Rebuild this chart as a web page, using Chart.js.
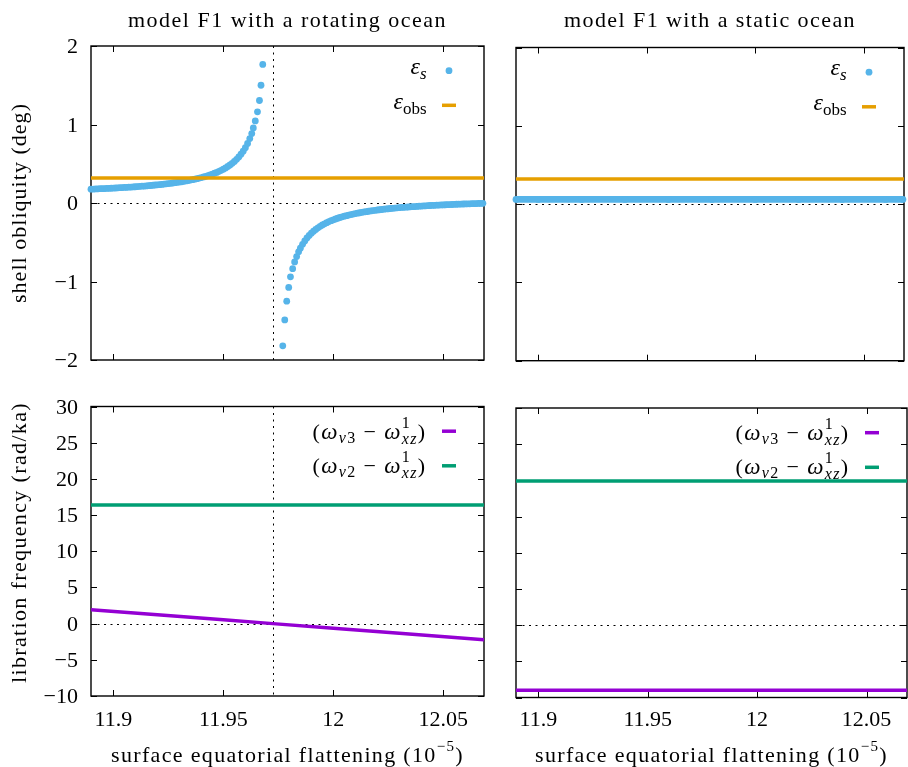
<!DOCTYPE html>
<html>
<head>
<meta charset="utf-8">
<title>model F1 obliquity and libration</title>
<script src="https://cdn.jsdelivr.net/npm/chart.js@4.4.1/dist/chart.umd.min.js"></script>
<style>
  html, body { margin: 0; padding: 0; background: #fff; }
  #fig { position: relative; width: 908px; height: 767px; overflow: hidden; }
  #fig canvas { position: absolute; left: 0; top: 0; }
</style>
</head>
<body>
<div id="fig">
  <canvas id="tl" width="908" height="767"></canvas>
  <canvas id="tr" width="908" height="767"></canvas>
  <canvas id="bl" width="908" height="767"></canvas>
  <canvas id="br" width="908" height="767"></canvas>
</div>
<script>
// x axis: surface equatorial flattening (10^-5), same for all panels
const xMin = 11.8898
const xMax = 12.0685
const xTicks = [11.9, 11.95, 12, 12.05]
const resonanceX = 11.9725

// top row: shell obliquity (deg)
const oblTicks = [-2, -1, 0, 1, 2]
// rotating ocean, below the resonance
const rotLeftX = [11.8898, 11.891, 11.892, 11.893, 11.894, 11.895, 11.896, 11.897, 11.898, 11.899,
  11.900, 11.901, 11.902, 11.903, 11.904, 11.905, 11.906, 11.907, 11.908, 11.909,
  11.910, 11.911, 11.912, 11.913, 11.914, 11.915, 11.916, 11.917, 11.918, 11.919,
  11.920, 11.921, 11.922, 11.923, 11.924, 11.925, 11.926, 11.927, 11.928, 11.929,
  11.930, 11.931, 11.932, 11.933, 11.934, 11.935, 11.936, 11.937, 11.938, 11.939,
  11.940, 11.941, 11.942, 11.943, 11.944, 11.945, 11.946, 11.947, 11.948, 11.949,
  11.950, 11.951, 11.952, 11.953, 11.954, 11.955, 11.956, 11.957, 11.958, 11.959,
  11.960, 11.961, 11.962, 11.9629, 11.9636, 11.9645, 11.9655, 11.9664, 11.9671, 11.9679]
const rotLeftY = [0.176, 0.178, 0.179, 0.180, 0.182, 0.183, 0.184, 0.186, 0.187, 0.188,
  0.190, 0.191, 0.193, 0.195, 0.196, 0.198, 0.200, 0.202, 0.203, 0.205,
  0.207, 0.209, 0.212, 0.214, 0.216, 0.218, 0.221, 0.223, 0.226, 0.229,
  0.232, 0.234, 0.237, 0.241, 0.244, 0.247, 0.251, 0.255, 0.259, 0.263,
  0.267, 0.271, 0.276, 0.281, 0.286, 0.292, 0.297, 0.303, 0.310, 0.317,
  0.324, 0.332, 0.340, 0.348, 0.358, 0.368, 0.379, 0.390, 0.403, 0.416,
  0.431, 0.447, 0.465, 0.484, 0.506, 0.529, 0.556, 0.586, 0.621, 0.660,
  0.705, 0.758, 0.821, 0.885, 0.957, 1.046, 1.161, 1.306, 1.50, 1.765]
// rotating ocean, above the resonance
const rotRightX = [11.9770, 11.9779, 11.9788, 11.9797, 11.9805, 11.9815, 11.9824, 11.9833, 11.9842,
  11.985, 11.986, 11.987, 11.988, 11.989, 11.990, 11.991, 11.992, 11.993, 11.994,
  11.995, 11.996, 11.997, 11.998, 11.999, 12.000, 12.001, 12.002, 12.003, 12.004,
  12.005, 12.006, 12.007, 12.008, 12.009, 12.010, 12.011, 12.012, 12.013, 12.014,
  12.015, 12.016, 12.017, 12.018, 12.019, 12.020, 12.021, 12.022, 12.023, 12.024,
  12.025, 12.026, 12.027, 12.028, 12.029, 12.030, 12.031, 12.032, 12.033, 12.034,
  12.035, 12.036, 12.037, 12.038, 12.039, 12.040, 12.041, 12.042, 12.043, 12.044,
  12.045, 12.046, 12.047, 12.048, 12.049, 12.050, 12.051, 12.052, 12.053, 12.054,
  12.055, 12.056, 12.057, 12.058, 12.059, 12.060, 12.061, 12.062, 12.063, 12.064,
  12.065, 12.066, 12.067, 12.068]
const rotRightY = [-1.82, -1.49, -1.25, -1.075, -0.94, -0.837, -0.75, -0.682, -0.622,
  -0.576, -0.526, -0.483, -0.446, -0.414, -0.385, -0.360, -0.337, -0.316, -0.297,
  -0.280, -0.265, -0.251, -0.237, -0.225, -0.214, -0.204, -0.194, -0.185, -0.176,
  -0.168, -0.161, -0.154, -0.147, -0.141, -0.135, -0.129, -0.124, -0.119, -0.114,
  -0.110, -0.105, -0.101, -0.097, -0.093, -0.089, -0.086, -0.083, -0.079, -0.076,
  -0.073, -0.070, -0.068, -0.065, -0.062, -0.060, -0.057, -0.055, -0.053, -0.051,
  -0.049, -0.047, -0.045, -0.043, -0.041, -0.039, -0.037, -0.036, -0.034, -0.032,
  -0.031, -0.029, -0.028, -0.026, -0.025, -0.024, -0.022, -0.021, -0.020, -0.019,
  -0.017, -0.016, -0.015, -0.014, -0.013, -0.012, -0.011, -0.010, -0.009, -0.008,
  -0.007, -0.006, -0.005, -0.004]
// static ocean
const staticX = [11.8898, 11.90, 11.92, 11.94, 11.96, 11.98, 12.00, 12.02, 12.04, 12.06, 12.068]
const staticY = [0.06, 0.06, 0.06, 0.06, 0.06, 0.06, 0.06, 0.06, 0.06, 0.06, 0.06]
// observed obliquity
const obsX = [11.8898, 12.0685]
const obsY = [0.32, 0.32]

// bottom row: libration frequency (rad/ka)
const freqTicks = [-10, -5, 0, 5, 10, 15, 20, 25, 30]
const rotV3X = [11.8898, 11.92, 11.95, 11.9725, 12.0, 12.03, 12.0685]
const rotV3Y = [1.93, 1.22, 0.52, 0.0, -0.63, -1.33, -2.24]
const rotV2X = [11.8898, 11.98, 12.0685]
const rotV2Y = [16.4, 16.4, 16.4]
const statV3X = [11.8898, 11.98, 12.0685]
const statV3Y = [-9.0, -9.0, -9.0]
const statV2X = [11.8898, 11.98, 12.0685]
const statV2Y = [19.9, 19.9, 19.9]

const BLUE = '#56b4e9'
const ORANGE = '#e69f00'
const GREEN = '#009e73'
const PURPLE = '#9400d3'
const SERIF = '"Liberation Serif", "Times New Roman", serif'

function f (size, style) { return (style ? style + ' ' : '') + size + 'px ' + SERIF }
function fmt (v) { return v < 0 ? '\u2212' + Math.abs(v) : String(v) }
function pts (xs, ys) { return xs.map((x, i) => ({ x: x, y: ys[i] })) }

function dots (xs, ys) {
  return { data: pts(xs, ys), showLine: false, pointRadius: 3.4, pointBackgroundColor: BLUE,
    pointBorderWidth: 0, clip: false, order: 1 }
}
function band (xs, ys, color, w) {
  return { data: pts(xs, ys), showLine: true, borderColor: color, borderWidth: w,
    pointRadius: 0, order: 0 }
}

// draw a run of text pieces (sub/superscripts), optionally stretched to a width
function rich (ctx, parts, x, y, align, target) {
  let n = 0
  let w0 = 0
  ctx.letterSpacing = '0px'
  for (const p of parts) {
    if (p.sup !== undefined) {
      ctx.font = p.fs
      const a = ctx.measureText(p.sup).width
      ctx.font = p.fb
      const b = ctx.measureText(p.sub).width
      p.w = Math.max(a, b)
      p.n = Math.max(p.sup.length, p.sub.length)
    } else {
      ctx.font = p.f
      p.w = ctx.measureText(p.t).width
      p.n = [...p.t].length
    }
    w0 += p.w
    n += p.n
  }
  const ls = target ? (target - w0) / n : 0
  const w = w0 + ls * n
  let cx = align === 'right' ? x - w : align === 'center' ? x - w / 2 : x
  ctx.textAlign = 'left'
  ctx.textBaseline = 'alphabetic'
  ctx.fillStyle = '#000'
  ctx.letterSpacing = ls + 'px'
  for (const p of parts) {
    if (p.sup !== undefined) {
      ctx.font = p.fs
      ctx.fillText(p.sup, cx, y + p.dys)
      ctx.font = p.fb
      ctx.fillText(p.sub, cx, y + p.dyb)
    } else {
      ctx.font = p.f
      ctx.fillText(p.t, cx, y + (p.dy || 0))
    }
    cx += p.w + ls * p.n
  }
  ctx.letterSpacing = '0px'
}

function omegaRow (k) {
  return [
    { t: '(', f: f(22) },
    { t: 'ω', f: f(23, 'italic') },
    { t: 'v', f: f(16, 'italic'), dy: 4 },
    { t: k, f: f(16), dy: 4 },
    { t: ' \u2212 ', f: f(22) },
    { t: 'ω', f: f(23, 'italic') },
    { sup: '1', sub: 'xz', fs: f(16), fb: f(16, 'italic'), dys: -11, dyb: 5 },
    { t: ')', f: f(22) }
  ]
}

function drawLegend (ctx, a, kind) {
  const tx = a.right - 57.5
  const m0 = a.right - 42
  const m1 = a.right - 28
  const r1 = a.top + 24.7
  const r2 = a.top + 59.3
  ctx.lineWidth = 3.5
  ctx.setLineDash([])
  if (kind === 'obl') {
    rich(ctx, [{ t: 'ε', f: f(24, 'italic') }, { t: 's', f: f(17, 'italic'), dy: 5 }], tx, a.top + 27.8, 'right')
    rich(ctx, [{ t: 'ε', f: f(24, 'italic') }, { t: 'obs', f: f(17), dy: 5 }], tx, a.top + 62.6, 'right')
    ctx.fillStyle = BLUE
    ctx.beginPath()
    ctx.arc(a.right - 35, r1, 3.4, 0, Math.PI * 2)
    ctx.fill()
    ctx.strokeStyle = ORANGE
    ctx.beginPath(); ctx.moveTo(m0, r2); ctx.lineTo(m1, r2); ctx.stroke()
  } else {
    rich(ctx, omegaRow('3'), tx, a.top + 32, 'right', 114)
    rich(ctx, omegaRow('2'), tx, a.top + 66, 'right', 114)
    ctx.strokeStyle = PURPLE
    ctx.beginPath(); ctx.moveTo(m0, r1); ctx.lineTo(m1, r1); ctx.stroke()
    ctx.strokeStyle = GREEN
    ctx.beginPath(); ctx.moveTo(m0, r2); ctx.lineTo(m1, r2); ctx.stroke()
  }
}

function panelPlugin (p) {
  return {
    id: 'gp_' + p.id,
    beforeDatasetsDraw (chart) {
      const ctx = chart.ctx
      const a = chart.chartArea
      const xs = chart.scales.x
      const ys = chart.scales.y
      ctx.save()
      ctx.strokeStyle = '#000'
      ctx.lineWidth = 1
      // dotted zero axis and resonance line
      ctx.setLineDash([2, 4.5])
      const y0 = Math.round(ys.getPixelForValue(0)) + 0.5
      ctx.beginPath(); ctx.moveTo(a.left, y0); ctx.lineTo(a.right, y0); ctx.stroke()
      if (p.vline) {
        const xv = Math.round(xs.getPixelForValue(resonanceX)) + 0.5
        ctx.beginPath(); ctx.moveTo(xv, a.top); ctx.lineTo(xv, a.bottom); ctx.stroke()
      }
      ctx.setLineDash([])
      // inward ticks, mirrored
      ctx.beginPath()
      for (const v of xTicks) {
        const px = Math.round(xs.getPixelForValue(v)) + 0.5
        ctx.moveTo(px, a.bottom); ctx.lineTo(px, a.bottom - 6)
        ctx.moveTo(px, a.top); ctx.lineTo(px, a.top + 6)
      }
      for (const v of p.yTicks) {
        const py = Math.round(ys.getPixelForValue(v)) + 0.5
        ctx.moveTo(a.left, py); ctx.lineTo(a.left + 6, py)
        ctx.moveTo(a.right, py); ctx.lineTo(a.right - 6, py)
      }
      ctx.stroke()
      // frame
      ctx.lineWidth = 1.4
      ctx.strokeRect(a.left, a.top, a.right - a.left, a.bottom - a.top)
      ctx.restore()
    },
    afterDraw (chart) {
      const ctx = chart.ctx
      const a = chart.chartArea
      const xs = chart.scales.x
      const ys = chart.scales.y
      const cx = (a.left + a.right) / 2
      ctx.save()
      ctx.fillStyle = '#000'
      ctx.font = f(22)
      if (p.yLabels) {
        ctx.textAlign = 'right'
        ctx.textBaseline = 'alphabetic'
        for (const v of p.yTicks) {
          ctx.fillText(fmt(v), a.left - 13, ys.getPixelForValue(v) + 7)
        }
        ctx.save()
        ctx.translate(25.5, p.yTitleY)
        ctx.rotate(-Math.PI / 2)
        rich(ctx, [{ t: p.yTitle, f: f(22) }], 0, 0, 'center', p.yTitleW)
        ctx.restore()
      }
      if (p.xLabels) {
        ctx.font = f(22)
        ctx.textAlign = 'center'
        ctx.textBaseline = 'alphabetic'
        for (const v of xTicks) {
          ctx.fillText(fmt(v), xs.getPixelForValue(v), 726)
        }
        rich(ctx, [
          { t: 'surface equatorial flattening (10', f: f(22) },
          { t: '\u22125', f: f(15), dy: -11 },
          { t: ')', f: f(22) }
        ], cx, 761.5, 'center', 353)
      }
      if (p.title) {
        rich(ctx, [{ t: p.title, f: f(22) }], cx, 26.5, 'center', p.titleW)
      }
      drawLegend(ctx, a, p.legend)
      ctx.restore()
    }
  }
}

const panels = [
  {
    id: 'tl', box: [91, 46, 484, 360], yRange: [-2, 2], yTicks: oblTicks,
    yLabels: true, xLabels: false, vline: true, legend: 'obl',
    title: 'model F1 with a rotating ocean', titleW: 319,
    yTitle: 'shell obliquity (deg)', yTitleW: 200, yTitleY: 203,
    datasets: [band(obsX, obsY, ORANGE, 3.5), dots(rotLeftX, rotLeftY), dots(rotRightX, rotRightY)]
  },
  {
    id: 'tr', box: [516, 47.5, 907, 360.7], yRange: [-2, 2], yTicks: oblTicks,
    yLabels: false, xLabels: false, vline: false, legend: 'obl',
    title: 'model F1 with a static ocean', titleW: 292,
    datasets: [band(obsX, obsY, ORANGE, 3.5),
      Object.assign(dots(staticX, staticY), { showLine: true, borderColor: BLUE, borderWidth: 6.8 })]
  },
  {
    id: 'bl', box: [91, 406.5, 484, 696], yRange: [-10, 30], yTicks: freqTicks,
    yLabels: true, xLabels: true, vline: true, legend: 'freq',
    yTitle: 'libration frequency (rad/ka)', yTitleW: 281, yTitleY: 542.5,
    datasets: [band(rotV3X, rotV3Y, PURPLE, 3.5), band(rotV2X, rotV2Y, GREEN, 3.5)]
  },
  {
    id: 'br', box: [516, 408, 907, 697.5], yRange: [-10, 30], yTicks: freqTicks,
    yLabels: false, xLabels: true, vline: false, legend: 'freq',
    datasets: [band(statV3X, statV3Y, PURPLE, 3.5), band(statV2X, statV2Y, GREEN, 3.5)]
  }
]

for (const p of panels) {
  const b = p.box
  new Chart(document.getElementById(p.id), {
    type: 'scatter',
    data: { datasets: p.datasets },
    options: {
      responsive: false,
      animation: false,
      devicePixelRatio: 1,
      layout: { padding: { left: b[0], top: b[1], right: 908 - b[2], bottom: 767 - b[3] } },
      scales: {
        x: { type: 'linear', min: xMin, max: xMax, display: false },
        y: { type: 'linear', min: p.yRange[0], max: p.yRange[1], display: false }
      },
      plugins: { legend: { display: false }, tooltip: { enabled: false } }
    },
    plugins: [panelPlugin(p)]
  })
}
</script>
</body>
</html>
